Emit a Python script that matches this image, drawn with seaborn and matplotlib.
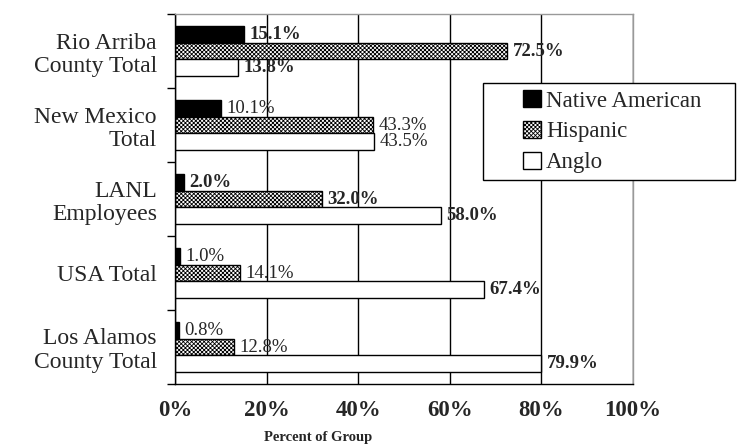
import pandas as pd
import seaborn as sns
import matplotlib.pyplot as plt
import matplotlib.ticker as mticker
from matplotlib.patches import Patch, Rectangle

# datos
grupos = ['Rio Arriba\nCounty Total', 'New Mexico\nTotal', 'LANL\nEmployees',
          'USA Total', 'Los Alamos\nCounty Total']
razas = ['Native American', 'Hispanic', 'Anglo']
native = [15.1, 10.1, 2.0, 1.0, 0.8]
hispanic = [72.5, 43.3, 32.0, 14.1, 12.8]
anglo = [13.8, 43.5, 58.0, 67.4, 79.9]

# que etiquetas salen en negrita (estilo, no datos)
negrita = [[True, False, True, False, False],
           [True, False, True, False, False],
           [True, False, True, True, True]]

df = pd.DataFrame({
    'Grupo': grupos * 3,
    'Raza': [r for r in razas for _ in grupos],
    'Pct': native + hispanic + anglo,
})

sns.set_theme(style='white')
plt.rcParams['font.family'] = ['Liberation Serif', 'DejaVu Serif']
plt.rcParams['hatch.linewidth'] = 0.6

fig = plt.figure(figsize=(7.47, 4.46), dpi=100)
ax = fig.add_axes([175/747, 62/446, 458/747, 370/446])

sns.barplot(data=df, y='Grupo', x='Pct', hue='Raza', order=grupos, hue_order=razas,
            orient='h', palette={'Native American': 'black', 'Hispanic': 'white', 'Anglo': 'white'},
            edgecolor='black', linewidth=1, width=0.68, gap=0, legend=False, ax=ax)

for bar in ax.containers[1]:
    bar.set_hatch('xxxxxxxx')

# etiquetas de valores
for i, cont in enumerate(ax.containers):
    textos = ax.bar_label(cont, labels=[f'{v:.1f}%' for v in cont.datavalues],
                          padding=4, fontsize=13.5)
    for t, b in zip(textos, negrita[i]):
        t.set_fontweight('bold' if b else 'normal')

ax.set_xlim(0, 100)
ax.xaxis.set_major_locator(mticker.MultipleLocator(20))
ax.xaxis.set_minor_locator(mticker.MultipleLocator(4))
ax.xaxis.set_major_formatter(mticker.StrMethodFormatter('{x:.0f}%'))
ax.tick_params(axis='x', which='major', direction='inout', length=7, width=1,
               color='black', labelsize=16.5, pad=8)
ax.tick_params(axis='x', which='minor', direction='in', length=3.5, width=0.8, color='black')
for lab in ax.get_xticklabels():
    lab.set_fontweight('bold')

ax.yaxis.set_minor_locator(mticker.FixedLocator([-0.5, 0.5, 1.5, 2.5, 3.5, 4.5]))
ax.tick_params(axis='y', which='major', length=0, labelsize=17, pad=13)
ax.tick_params(axis='y', which='minor', direction='out', length=6, width=1,
               color='black', left=True)
for lab in ax.get_yticklabels():
    lab.set_multialignment('right')
    lab.set_linespacing(1.15)

ax.xaxis.grid(True, color='black', linewidth=1)
gl = ax.get_xgridlines()
gl[0].set_visible(False)
gl[-1].set_visible(False)
ax.set_axisbelow(True)

for lado in ['left', 'bottom']:
    ax.spines[lado].set_color('black')
    ax.spines[lado].set_linewidth(1)
for lado in ['top', 'right']:
    ax.spines[lado].set_color('#999999')
    ax.spines[lado].set_linewidth(1)

ax.set_ylabel('')
ax.set_xlabel('Percent of Group', fontsize=10.5, fontweight='bold')
ax.xaxis.set_label_coords(0.312, -0.128)

# caja de la leyenda
caja = Rectangle((0.6725, 0.551), 0.55, 0.262, transform=ax.transAxes,
                 facecolor='white', edgecolor='black', linewidth=1,
                 clip_on=False, zorder=4.5)
ax.add_patch(caja)
manejadores = [Patch(facecolor='black', edgecolor='black'),
               Patch(facecolor='white', edgecolor='black', hatch='xxxxxxxx'),
               Patch(facecolor='white', edgecolor='black')]
ley = ax.legend(manejadores, razas, loc='upper left', bbox_to_anchor=(0.76, 0.795),
                frameon=False, fontsize=16.5, handlelength=0.8, handleheight=0.8,
                handletextpad=0.2, labelspacing=0.4, borderpad=0, borderaxespad=0)
ley.set_zorder(5)

fig.savefig('out.png', dpi=100)
